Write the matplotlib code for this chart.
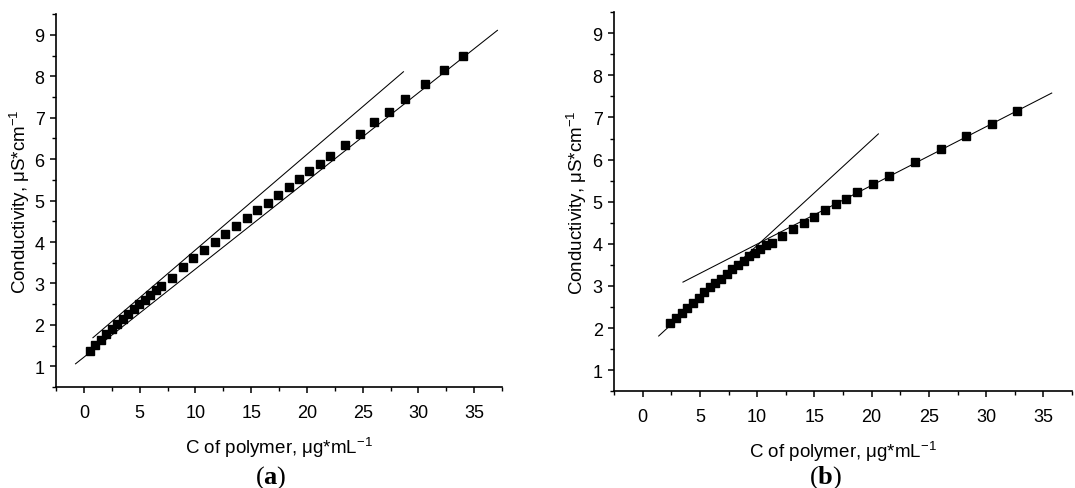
import matplotlib
matplotlib.use("Agg")
import matplotlib.pyplot as plt
from matplotlib.ticker import MultipleLocator

plt.rcParams['font.family'] = ['Liberation Sans', 'DejaVu Sans']
plt.rcParams['mathtext.fontset'] = 'custom'
plt.rcParams['mathtext.rm'] = 'Liberation Sans'
plt.rcParams['mathtext.it'] = 'Liberation Sans:italic'
plt.rcParams['mathtext.bf'] = 'Liberation Serif:bold'

# Panel (a) data
xa = [0.51, 0.99, 1.50, 2.00, 2.48, 2.99, 3.47, 3.98, 4.46, 4.97, 5.44, 5.95, 6.43, 6.94,
      7.90, 8.88, 9.81, 10.77, 11.73, 12.68, 13.64, 14.60, 15.55, 16.48, 17.41, 18.37,
      19.29, 20.22, 21.15, 22.08, 23.39, 24.74, 26.05, 27.40, 28.78, 30.57, 32.31, 34.04]
ya = [1.38, 1.52, 1.64, 1.77, 1.89, 2.02, 2.14, 2.26, 2.38, 2.50, 2.60, 2.73, 2.84, 2.95,
      3.14, 3.40, 3.61, 3.80, 4.01, 4.20, 4.38, 4.58, 4.78, 4.95, 5.13, 5.33,
      5.52, 5.71, 5.89, 6.08, 6.34, 6.61, 6.89, 7.15, 7.45, 7.81, 8.16, 8.50]
fit_a1_x = [-0.75, 37.09]
fit_a1_y = [1.06, 9.11]
fit_a2_x = [0.81, 28.66]
fit_a2_y = [1.69, 8.11]

# Panel (b) data
xb = [2.42, 2.91, 3.41, 3.90, 4.40, 4.89, 5.36, 5.85, 6.35, 6.84, 7.34, 7.83, 8.33, 8.82,
      9.32, 9.81, 10.28, 10.77, 11.27, 12.17, 13.10, 14.07, 15.00, 15.93, 16.86, 17.79,
      18.75, 20.12, 21.49, 23.79, 26.06, 28.28, 30.55, 32.70]
yb = [2.11, 2.24, 2.36, 2.48, 2.60, 2.72, 2.86, 2.97, 3.06, 3.17, 3.28, 3.39, 3.49, 3.60,
      3.70, 3.79, 3.88, 3.96, 4.01, 4.18, 4.34, 4.49, 4.64, 4.80, 4.94, 5.07,
      5.23, 5.43, 5.62, 5.95, 6.24, 6.57, 6.85, 7.15]
fit_b1_x = [1.40, 20.59]
fit_b1_y = [1.81, 6.61]
fit_b2_x = [3.52, 35.73]
fit_b2_y = [3.09, 7.58]

xticks = [0, 5, 10, 15, 20, 25, 30, 35]
yticks = [1, 2, 3, 4, 5, 6, 7, 8, 9]
xlabel = 'C of polymer, μg*mL$^{-1}$'
ylabel = 'Conductivity, μS*cm$^{-1}$'
captions = ['($\\mathbf{a}$)', '($\\mathbf{b}$)']

fig = plt.figure(figsize=(10.75, 4.89), dpi=100)
ax1 = fig.add_axes([0.0521, 0.2065, 0.4149, 0.7625])
ax2 = fig.add_axes([0.5712, 0.198, 0.426, 0.775])

panels = [
    (ax1, xa, ya, [(fit_a1_x, fit_a1_y), (fit_a2_x, fit_a2_y)]),
    (ax2, xb, yb, [(fit_b1_x, fit_b1_y), (fit_b2_x, fit_b2_y)]),
]

for ax, x, y, fits in panels:
    for fx, fy in fits:
        ax.plot(fx, fy, color='black', lw=0.75, zorder=2)
    ax.plot(x, y, linestyle='none', marker='s', ms=5.6, color='black', zorder=3)
    ax.set_xlim(-2.5, 37.5)
    ax.set_ylim(0.5, 9.5)
    ax.set_xticks(xticks)
    ax.set_yticks(yticks)
    ax.xaxis.set_minor_locator(MultipleLocator(2.5))
    ax.yaxis.set_minor_locator(MultipleLocator(0.5))
    ax.spines['top'].set_visible(False)
    ax.spines['right'].set_visible(False)
    for s in ('left', 'bottom'):
        ax.spines[s].set_linewidth(1.2)
    ax.tick_params(which='major', direction='out', length=4.2, width=1.1, labelsize=13)
    ax.tick_params(axis='x', which='major', pad=8)
    ax.tick_params(axis='y', which='major', pad=4)
    ax.tick_params(which='minor', direction='out', length=2.8, width=1.0)
    ax.set_xlabel(xlabel, fontsize=13.5, labelpad=10)
    ax.set_ylabel(ylabel, fontsize=13.5, va='center')
    ax.yaxis.set_label_coords(-0.08, 0.5)

fig.text(0.252, 0.024, captions[0], ha='center', va='center', fontsize=19,
         family=['Liberation Serif', 'DejaVu Serif'])
fig.text(0.768, 0.024, captions[1], ha='center', va='center', fontsize=19,
         family=['Liberation Serif', 'DejaVu Serif'])

fig.savefig('out.png', dpi=100)
